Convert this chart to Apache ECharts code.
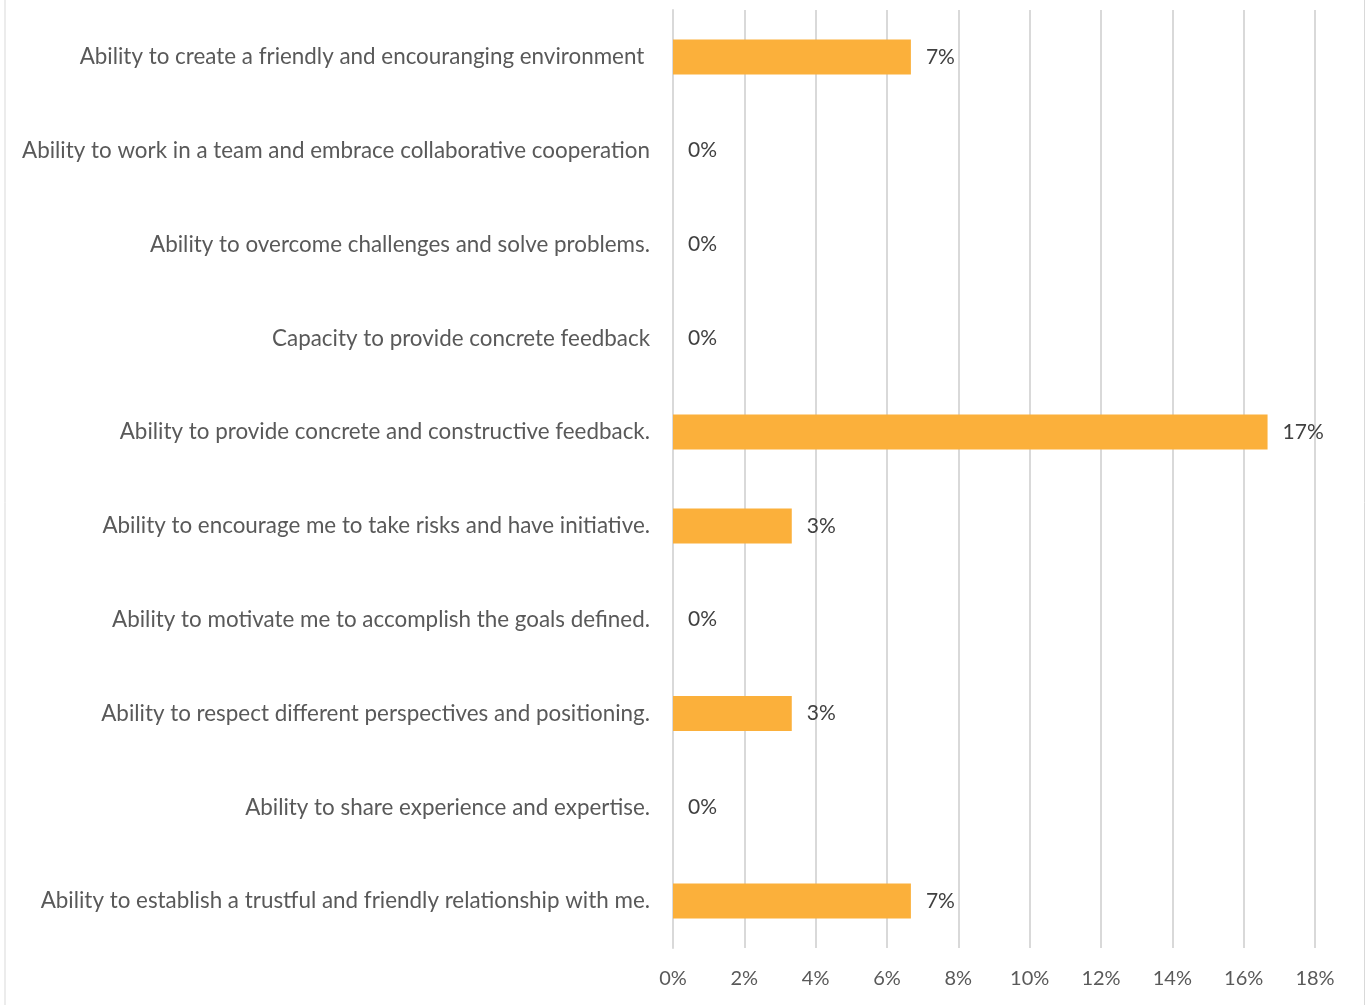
<!DOCTYPE html>
<html>
<head>
<meta charset="utf-8">
<script src="https://cdn.jsdelivr.net/npm/echarts@6/dist/echarts.min.js"></script>
<style>
  html, body { margin: 0; padding: 0; background: #ffffff; }
  #chart { width: 1366px; height: 1005px; }
</style>
</head>
<body>
<div id="chart"></div>
<script>
// Survey items, listed top to bottom
const categories = [
  'Ability to create a friendly and encouranging environment ',
  'Ability to work in a team and embrace collaborative cooperation',
  'Ability to overcome challenges and solve problems.',
  'Capacity to provide concrete feedback',
  'Ability to provide concrete and constructive feedback.',
  'Ability to encourage me to take risks and have initiative.',
  'Ability to motivate me to accomplish the goals defined.',
  'Ability to respect different perspectives and positioning.',
  'Ability to share experience and expertise.',
  'Ability to establish a trustful and friendly relationship with me.'
];

// Share of respondents (%)
const shares = [6.67, 0, 0, 0, 16.67, 3.33, 0, 3.33, 0, 6.67];

// Value axis ticks (%)
const axisMin = 0;
const axisMax = 18;
const axisStep = 2;

const FONT = 'Lato';
const chart = echarts.init(document.getElementById('chart'), null, { renderer: 'canvas' });

chart.setOption({
  animation: false,
  backgroundColor: '#ffffff',
  grid: { left: 673, right: 51, top: 10, bottom: 57, containLabel: false },
  xAxis: {
    type: 'value',
    min: axisMin,
    max: axisMax,
    interval: axisStep,
    axisLine: { show: false },
    axisTick: { show: false },
    splitLine: { show: true, lineStyle: { color: '#d9d9d9', width: 2 } },
    axisLabel: {
      formatter: v => v + '%',
      color: '#595959',
      fontFamily: FONT,
      fontSize: 20,
      margin: 21
    }
  },
  yAxis: {
    type: 'category',
    data: categories,
    inverse: true,
    axisLine: { show: true, lineStyle: { color: '#d9d9d9', width: 2 } },
    axisTick: { show: false },
    splitLine: { show: false },
    axisLabel: {
      color: '#595959',
      fontFamily: FONT,
      fontSize: 22.4,
      margin: 23
    }
  },
  series: [{
    type: 'bar',
    data: shares,
    barWidth: 35,
    itemStyle: { color: '#fbb03b' },
    label: {
      show: true,
      position: 'right',
      distance: 15,
      formatter: p => Math.round(p.value) + '%',
      color: '#404040',
      fontFamily: FONT,
      fontSize: 21
    }
  }],
  graphic: [
    { type: 'line', shape: { x1: 5, y1: 0, x2: 5, y2: 1005 }, style: { stroke: '#d9d9d9', lineWidth: 1 } },
    { type: 'line', shape: { x1: 1364.5, y1: 0, x2: 1364.5, y2: 1005 }, style: { stroke: '#d9d9d9', lineWidth: 1 } }
  ]
});
</script>
</body>
</html>
